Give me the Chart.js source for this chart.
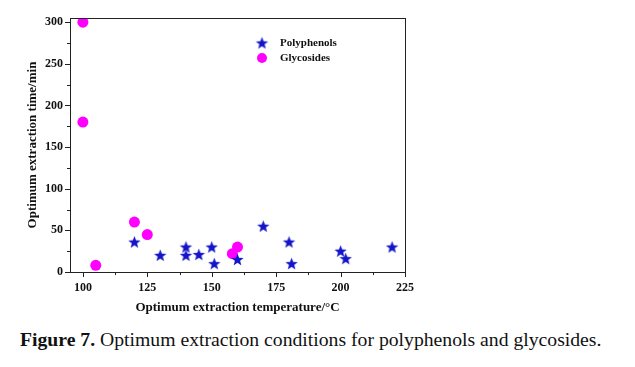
<!DOCTYPE html>
<html>
<head>
<meta charset="utf-8">
<script src="https://cdn.jsdelivr.net/npm/chart.js@4"></script>
<style>
  html, body { margin: 0; padding: 0; background: #fff; }
  #wrap { position: relative; width: 635px; height: 367px; overflow: hidden; }
  #chart { position: absolute; left: 0; top: 0; }
  #caption {
    position: absolute; left: 20px; top: 328px; white-space: nowrap;
    font-family: "Liberation Serif", serif; font-size: 19.7px; color: #111;
  }
</style>
</head>
<body>
<div id="wrap">
  <canvas id="chart" width="635" height="320"></canvas>
  <div id="caption"><b>Figure 7.</b> Optimum extraction conditions for polyphenols and glycosides.</div>
</div>
<script>
// datos
const polyTemp = [120, 130, 140, 140, 145, 150, 151, 160, 170, 180, 181, 200, 202, 220];
const polyTime = [36, 20, 30, 20, 21, 30, 10, 15, 55, 36, 10, 25, 16, 30];
const glycoTemp = [100, 100, 105, 120, 125, 158, 160];
const glycoTime = [300, 180, 8, 60, 45, 22, 30];

const xTicks = [100, 125, 150, 175, 200, 225];
const yTicks = [0, 50, 100, 150, 200, 250, 300];

const fontFam = '"Liberation Serif", "Times New Roman", serif';

// estrella rellena (Chart.js 'star' no es rellena)
function makeStar(r, color) {
  const c = document.createElement('canvas');
  c.width = c.height = r * 2 + 2;
  const g = c.getContext('2d');
  g.fillStyle = color;
  g.beginPath();
  for (let i = 0; i < 10; i++) {
    const rad = i % 2 === 0 ? r : r * 0.42;
    const a = -Math.PI / 2 + i * Math.PI / 5;
    const px = c.width / 2 + rad * Math.cos(a);
    const py = c.height / 2 + rad * Math.sin(a) + 0.5;
    if (i === 0) g.moveTo(px, py); else g.lineTo(px, py);
  }
  g.closePath();
  g.fill();
  return c;
}
const starImg = makeStar(6.5, '#1414c8');

const toPts = (xs, ys) => xs.map((x, i) => ({ x, y: ys[i] }));

// marco, ticks menores/mayores y leyenda
const framePlugin = {
  id: 'frame',
  afterDraw(chart) {
    const { ctx, chartArea: a, scales } = chart;
    ctx.save();
    ctx.strokeStyle = '#222';
    ctx.lineWidth = 1;
    ctx.strokeRect(a.left + 0.5, a.top + 0.5, a.right - a.left, a.bottom - a.top);
    ctx.beginPath();
    for (let v = 100; v <= 225; v += 12.5) {
      const px = Math.round(scales.x.getPixelForValue(v)) + 0.5;
      const len = (v % 25 === 0) ? 5 : 3;
      ctx.moveTo(px, a.bottom); ctx.lineTo(px, a.bottom + len);
    }
    for (let v = 0; v <= 300; v += 25) {
      const py = Math.round(scales.y.getPixelForValue(v)) + 0.5;
      const len = (v % 50 === 0) ? 5 : 3;
      ctx.moveTo(a.left, py); ctx.lineTo(a.left - len, py);
    }
    ctx.stroke();

    // leyenda
    ctx.font = 'bold 11px ' + fontFam;
    ctx.fillStyle = '#111';
    ctx.textBaseline = 'middle';
    const lx = 262, ly = 43;
    ctx.drawImage(starImg, lx - starImg.width / 2, ly - starImg.height / 2);
    ctx.fillText(chart.data.datasets[0].label, lx + 18, ly);
    ctx.fillStyle = '#ff00ff';
    ctx.beginPath(); ctx.arc(lx, ly + 15, 5, 0, Math.PI * 2); ctx.fill();
    ctx.fillStyle = '#111';
    ctx.fillText(chart.data.datasets[1].label, lx + 18, ly + 15);
    ctx.restore();
  }
};

new Chart(document.getElementById('chart'), {
  type: 'scatter',
  data: {
    datasets: [
      { label: 'Polyphenols', data: toPts(polyTemp, polyTime), pointStyle: starImg, backgroundColor: '#1414c8' },
      { label: 'Glycosides', data: toPts(glycoTemp, glycoTime), pointStyle: 'circle', pointRadius: 5.5, backgroundColor: '#ff00ff', borderWidth: 0 }
    ]
  },
  options: {
    responsive: false,
    animation: false,
    layout: { padding: { left: 0, top: 18, right: 230, bottom: 0 } },
    plugins: { legend: { display: false }, tooltip: { enabled: false } },
    scales: {
      x: {
        type: 'linear', min: 95, max: 225,
        afterBuildTicks: s => { s.ticks = xTicks.map(v => ({ value: v })); },
        afterFit: s => { s.height = 48; },
        grid: { display: false, drawTicks: false }, border: { display: false },
        ticks: { color: '#111', padding: 9, maxRotation: 0, font: { family: fontFam, size: 12, weight: 'bold' } },
        title: { display: true, text: 'Optimum extraction temperature/°C', color: '#111', padding: { top: 0, bottom: 5 },
                 font: { family: fontFam, size: 13, weight: 'bold' } }
      },
      y: {
        type: 'linear', min: 0, max: 305,
        afterBuildTicks: s => { s.ticks = yTicks.map(v => ({ value: v })); },
        afterFit: s => { s.width = 70; },
        grid: { display: false, drawTicks: false }, border: { display: false },
        ticks: { color: '#111', padding: 7, font: { family: fontFam, size: 12, weight: 'bold' } },
        title: { display: true, text: 'Optimum extraction time/min', color: '#111', padding: { top: 25, bottom: 0 },
                 font: { family: fontFam, size: 13, weight: 'bold' } }
      }
    }
  },
  plugins: [framePlugin]
});
</script>
</body>
</html>
